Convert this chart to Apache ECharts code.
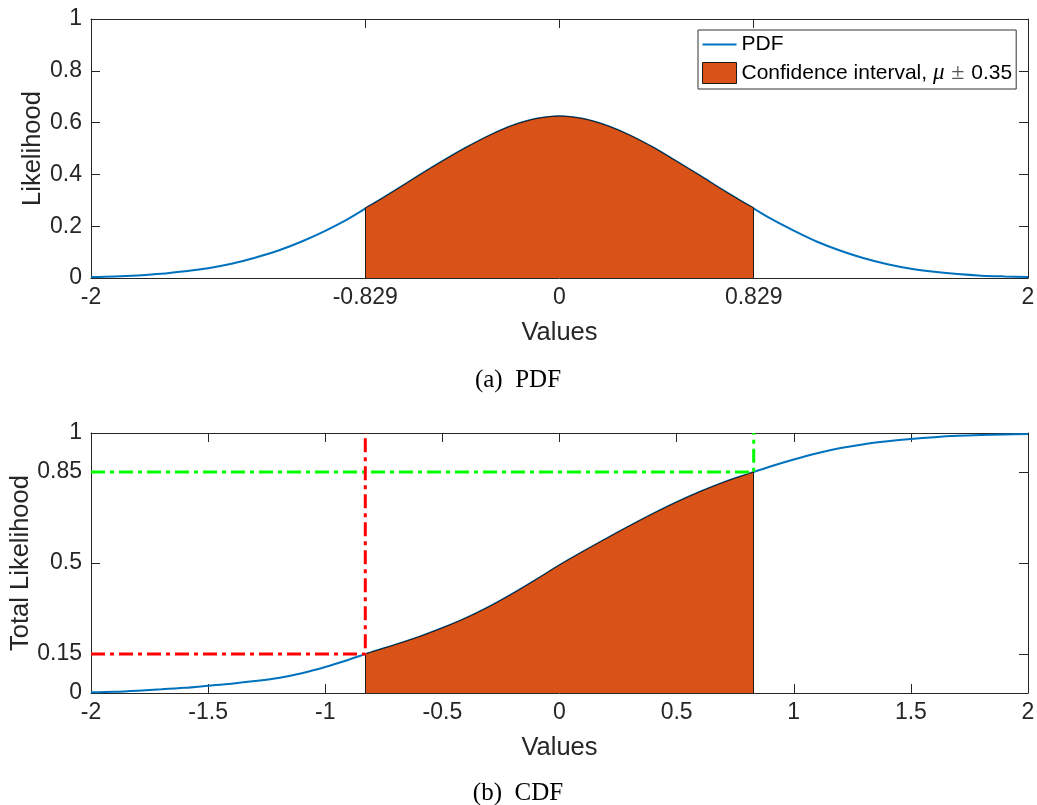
<!DOCTYPE html>
<html>
<head>
<meta charset="utf-8">
<script src="https://cdn.jsdelivr.net/npm/echarts@6/dist/echarts.min.js"></script>
<style>
  html, body { margin: 0; padding: 0; background: #fff; }
  #chart { width: 1037px; height: 805px; }
</style>
</head>
<body>
<div id="chart"></div>
<script>
// Sample positions along the value axis
const xValues = [-2, -1.9, -1.8, -1.7, -1.6, -1.5, -1.4, -1.3, -1.2, -1.1, -1, -0.9,
  -0.8, -0.7, -0.6, -0.5, -0.4, -0.3, -0.2, -0.1, 0, 0.1, 0.2, 0.3, 0.4, 0.5, 0.6, 0.7, 0.8,
  0.9, 1, 1.1, 1.2, 1.3, 1.4, 1.5, 1.6, 1.7, 1.8, 1.9, 2];

// Probability density at each sample
const pdfValues = [0.004, 0.006, 0.010, 0.016, 0.026, 0.038, 0.055, 0.078, 0.106, 0.141, 0.182, 0.229,
  0.284, 0.339, 0.396, 0.451, 0.503, 0.550, 0.589, 0.615, 0.625, 0.615, 0.589, 0.551, 0.504, 0.450, 0.395, 0.338, 0.284,
  0.230, 0.183, 0.140, 0.105, 0.076, 0.053, 0.036, 0.024, 0.015, 0.009, 0.006, 0.004];

// Cumulative likelihood at each sample
const cdfValues = [0.003, 0.005, 0.009, 0.014, 0.020, 0.028, 0.036, 0.046, 0.058, 0.076, 0.100, 0.128,
  0.158, 0.186, 0.216, 0.250, 0.288, 0.332, 0.382, 0.436, 0.492, 0.544, 0.594, 0.643, 0.690, 0.734, 0.774, 0.810, 0.841,
  0.871, 0.898, 0.922, 0.942, 0.957, 0.968, 0.977, 0.984, 0.989, 0.992, 0.994, 0.996];

// Confidence interval bounds, with the curve values found at them
const ciBounds = [-0.829, 0.829];
const pdfAtBounds = [0.271, 0.271];
const cdfAtBounds = [0.15, 0.85];

// Tick sets
const pdfXTicks = [-2, -0.829, 0, 0.829, 2];
const cdfYTicks = [0, 0.15, 0.5, 0.85, 1];

const seriesNames = ['PDF', 'Confidence interval, μ ± 0.35'];
const captions = ['(a)  PDF', '(b)  CDF'];

const BLUE = '#0072BD';
const ORANGE = '#D95319';
const AXIS = '#262626';
const EDGE = '#1a1a1a';
const SANS = 'Liberation Sans, Arial, sans-serif';
const SERIF = 'Liberation Serif, Times New Roman, serif';
const SMOOTH = 0.3;

function curve(vals) {
  return xValues.map((x, i) => [x, vals[i]]);
}
// Curve points across the confidence interval, bounds included
function inside(vals, atBounds) {
  const pts = [[ciBounds[0], atBounds[0]]];
  xValues.forEach((x, i) => {
    if (x > ciBounds[0] && x < ciBounds[1]) pts.push([x, vals[i]]);
  });
  pts.push([ciBounds[1], atBounds[1]]);
  return pts;
}
// Vertical edges closing the shaded region at both bounds
function edges(atBounds) {
  return {
    silent: true, symbol: 'none', label: { show: false },
    lineStyle: { color: EDGE, width: 1, type: 'solid' },
    data: ciBounds.map((b, i) => [{ coord: [b, 0] }, { coord: [b, atBounds[i]] }])
  };
}
// Dash-dot guide from the left edge to the curve, then up to the top
function guide(i) {
  return [[-2, cdfAtBounds[i]], [ciBounds[i], cdfAtBounds[i]], [ciBounds[i], 1]];
}

function tickStyle(custom) {
  const t = { show: true, inside: true, length: 9, lineStyle: { color: AXIS } };
  if (custom) t.customValues = custom;
  return t;
}
function baseX(grid, pos, extra) {
  return Object.assign({
    type: 'value', gridIndex: grid, position: pos, min: -2, max: 2,
    axisLine: { show: true, onZero: false, lineStyle: { color: AXIS, width: 1 } },
    axisTick: tickStyle(),
    axisLabel: { show: false },
    splitLine: { show: false },
    nameMoveOverlap: false
  }, extra || {});
}
function baseY(grid, pos, extra) {
  return Object.assign({
    type: 'value', gridIndex: grid, position: pos, min: 0, max: 1,
    axisLine: { show: true, onZero: false, lineStyle: { color: AXIS, width: 1 } },
    axisTick: tickStyle(),
    axisLabel: { show: false },
    splitLine: { show: false },
    nameMoveOverlap: false
  }, extra || {});
}

const tickLabel = { show: true, color: AXIS, fontFamily: SANS, fontSize: 23 };
const nameStyle = { color: AXIS, fontFamily: SANS, fontSize: 25.5 };

const chart = echarts.init(document.getElementById('chart'), null, { renderer: 'canvas' });

chart.setOption({
  animation: false,
  backgroundColor: '#fff',
  grid: [
    { left: 91, top: 19, width: 937, height: 259, outerBoundsMode: 'none', containLabel: false },
    { left: 91, top: 433, width: 937, height: 260, outerBoundsMode: 'none', containLabel: false }
  ],
  xAxis: [
    baseX(0, 'bottom', {
      axisTick: tickStyle(pdfXTicks),
      axisLabel: Object.assign({ margin: 8, customValues: pdfXTicks }, tickLabel),
      name: 'Values', nameLocation: 'middle', nameGap: 42, nameTextStyle: nameStyle
    }),
    baseX(0, 'top', { axisTick: tickStyle(pdfXTicks) }),
    baseX(1, 'bottom', {
      interval: 0.5,
      axisLabel: Object.assign({ margin: 8 }, tickLabel),
      name: 'Values', nameLocation: 'middle', nameGap: 42, nameTextStyle: nameStyle
    }),
    baseX(1, 'top', { interval: 0.5 })
  ],
  yAxis: [
    baseY(0, 'left', {
      interval: 0.2,
      axisLabel: Object.assign({ margin: 9 }, tickLabel),
      name: 'Likelihood', nameLocation: 'middle', nameGap: 45, nameTextStyle: nameStyle
    }),
    baseY(0, 'right', { interval: 0.2 }),
    baseY(1, 'left', {
      axisTick: tickStyle(cdfYTicks),
      axisLabel: Object.assign({ margin: 9, customValues: cdfYTicks }, tickLabel),
      name: 'Total Likelihood', nameLocation: 'middle', nameGap: 57, nameTextStyle: nameStyle
    }),
    baseY(1, 'right', { axisTick: tickStyle(cdfYTicks) })
  ],
  legend: {
    orient: 'vertical',
    left: 698, top: 30,
    padding: [4, 4, 4, 4],
    itemGap: 6,
    itemWidth: 34, itemHeight: 21,
    backgroundColor: '#fff',
    borderColor: '#333', borderWidth: 1, borderRadius: 0,
    data: [
      { name: seriesNames[0], icon: 'path://M0,0 L34,0 L34,2 L0,2 Z', itemStyle: { color: BLUE } },
      { name: seriesNames[1], icon: 'rect', itemStyle: { color: ORANGE, borderColor: EDGE, borderWidth: 1 } }
    ],
    formatter: function (name) {
      if (name === seriesNames[1]) {
        return 'Confidence interval, {mu|μ} {pm|±} 0.35';
      }
      return name;
    },
    textStyle: {
      color: '#000', fontFamily: SANS, fontSize: 21,
      rich: {
        mu: { fontFamily: SERIF, fontStyle: 'italic', fontSize: 23, color: '#000' },
        pm: { fontFamily: SERIF, fontSize: 24, color: '#555', padding: [0, 1, 0, 1] }
      }
    }
  },
  graphic: [
    { type: 'text', x: 518, y: 380, style: { text: captions[0], font: '25px ' + SERIF, fill: '#000', textAlign: 'center', textVerticalAlign: 'middle' } },
    { type: 'text', x: 518, y: 793, style: { text: captions[1], font: '25px ' + SERIF, fill: '#000', textAlign: 'center', textVerticalAlign: 'middle' } }
  ],
  series: [
    {
      name: seriesNames[0], type: 'line', xAxisIndex: 0, yAxisIndex: 0,
      data: curve(pdfValues), symbol: 'none', smooth: SMOOTH, z: 2,
      lineStyle: { color: BLUE, width: 2 }, itemStyle: { color: BLUE }
    },
    {
      name: seriesNames[1], type: 'line', xAxisIndex: 0, yAxisIndex: 0,
      data: inside(pdfValues, pdfAtBounds), symbol: 'none', smooth: SMOOTH, z: 3,
      lineStyle: { color: EDGE, width: 1 },
      itemStyle: { color: ORANGE },
      areaStyle: { color: ORANGE, opacity: 1 },
      markLine: edges(pdfAtBounds)
    },
    {
      name: 'CDF', type: 'line', xAxisIndex: 2, yAxisIndex: 2,
      data: curve(cdfValues), symbol: 'none', smooth: SMOOTH, z: 2,
      lineStyle: { color: BLUE, width: 2 }
    },
    {
      name: 'CDF interval', type: 'line', xAxisIndex: 2, yAxisIndex: 2,
      data: inside(cdfValues, cdfAtBounds), symbol: 'none', smooth: SMOOTH, z: 3,
      lineStyle: { color: EDGE, width: 1 },
      areaStyle: { color: ORANGE, opacity: 1 },
      markLine: edges(cdfAtBounds)
    },
    {
      name: 'lower level', type: 'line', xAxisIndex: 2, yAxisIndex: 2,
      data: guide(0), symbol: 'none', z: 5,
      lineStyle: { color: '#FF0000', width: 3, type: [14, 5, 4, 5] }
    },
    {
      name: 'upper level', type: 'line', xAxisIndex: 2, yAxisIndex: 2,
      data: guide(1), symbol: 'none', z: 4,
      lineStyle: { color: '#00FF00', width: 3, type: [14, 5, 4, 5] }
    }
  ]
});
</script>
</body>
</html>
